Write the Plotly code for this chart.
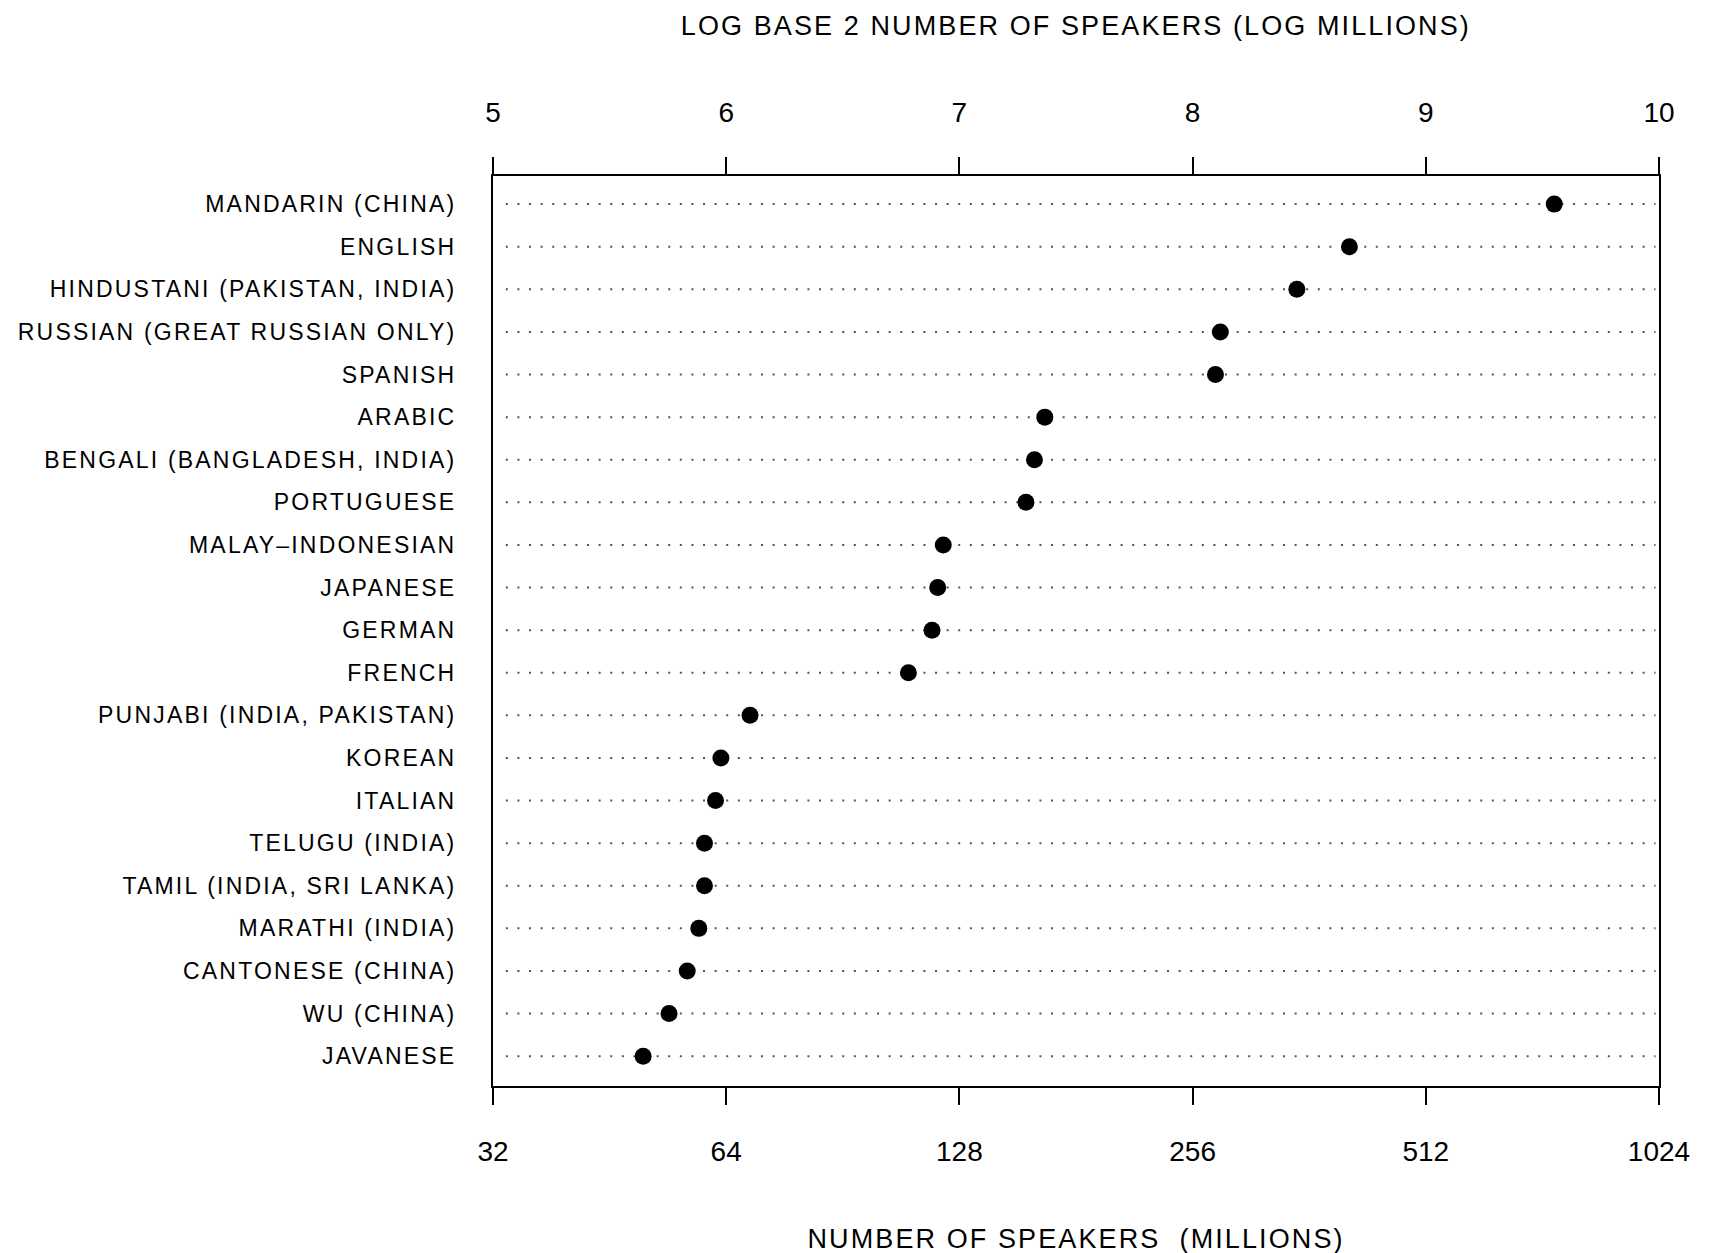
import numpy as np
import plotly.graph_objects as go

# Languages, largest first, and number of speakers (millions)
languages = [
    "MANDARIN (CHINA)",
    "ENGLISH",
    "HINDUSTANI (PAKISTAN, INDIA)",
    "RUSSIAN (GREAT RUSSIAN ONLY)",
    "SPANISH",
    "ARABIC",
    "BENGALI (BANGLADESH, INDIA)",
    "PORTUGUESE",
    "MALAY\u2013INDONESIAN",
    "JAPANESE",
    "GERMAN",
    "FRENCH",
    "PUNJABI (INDIA, PAKISTAN)",
    "KOREAN",
    "ITALIAN",
    "TELUGU (INDIA)",
    "TAMIL (INDIA, SRI LANKA)",
    "MARATHI (INDIA)",
    "CANTONESE (CHINA)",
    "WU (CHINA)",
    "JAVANESE",
]
speakers_millions = [
    750, 408, 349, 278, 274, 165, 160, 156, 122, 120, 118,
    110, 68.7, 63, 62, 60, 60, 59, 57, 54, 50,
]

bottom_ticks = [32, 64, 128, 256, 512, 1024]
bottom_tick_text = ["32", "64", "128", "256", "512", "1024"]
top_ticks = [5, 6, 7, 8, 9, 10]
top_tick_text = ["5", "6", "7", "8", "9", "10"]

top_title = "LOG BASE 2 NUMBER OF SPEAKERS (LOG MILLIONS)"
bottom_title = "NUMBER OF SPEAKERS \u00a0(MILLIONS)"

FONT = "Liberation Sans, Arial, Helvetica, sans-serif"

fig = go.Figure()

# dotted guide line across each row
for lang in languages:
    fig.add_shape(
        type="line", xref="x domain", yref="y",
        x0=0.011, x1=0.997, y0=lang, y1=lang,
        line=dict(color="#555555", width=2, dash="2px,9.6px"),
        layer="below",
    )

fig.add_trace(go.Scatter(
    x=speakers_millions, y=languages, mode="markers",
    marker=dict(color="black", size=17, line=dict(width=0)),
    xaxis="x", yaxis="y", hoverinfo="x+y", showlegend=False,
))
# same points on the log2 scale so the top axis is tied to the data
fig.add_trace(go.Scatter(
    x=np.log2(speakers_millions), y=languages, mode="markers",
    marker=dict(color="rgba(0,0,0,0)", size=1),
    xaxis="x2", yaxis="y", hoverinfo="skip", showlegend=False,
))

axis_font = dict(family=FONT, size=28, color="black")

fig.update_layout(
    width=1712, height=1253,
    margin=dict(l=493, r=53, t=176, b=167),
    paper_bgcolor="white", plot_bgcolor="white",
    font=dict(family=FONT, color="black"),
    showlegend=False,
    xaxis=dict(
        type="log",
        range=[np.log10(32), np.log10(1024)],
        tickmode="array", tickvals=bottom_ticks, ticktext=bottom_tick_text,
        ticks="outside", ticklen=17, tickwidth=2, tickcolor="black",
        ticklabelstandoff=22,
        showline=True, linewidth=2, linecolor="black",
        showgrid=False, zeroline=False,
        tickfont=axis_font,
    ),
    xaxis2=dict(
        overlaying="x", side="top",
        range=[5, 10],
        tickmode="array", tickvals=top_ticks, ticktext=top_tick_text,
        ticks="outside", ticklen=17, tickwidth=2, tickcolor="black",
        ticklabelstandoff=24,
        showline=True, linewidth=2, linecolor="black",
        showgrid=False, zeroline=False,
        tickfont=axis_font,
    ),
    yaxis=dict(
        type="category",
        categoryorder="array", categoryarray=languages,
        range=[20.7, -0.66],
        ticks="", ticklabelstandoff=30,
        showline=True, mirror=True, linewidth=2, linecolor="black",
        showgrid=False, zeroline=False,
        tickfont=dict(family=FONT, size=23, color="black"),
    ),
    annotations=[
        dict(text=top_title, xref="paper", yref="paper", x=0.5, y=1.1648,
             xanchor="center", yanchor="middle", showarrow=False,
             font=dict(family=FONT, size=27, color="black")),
        dict(text=bottom_title, xref="paper", yref="paper", x=0.5, y=-0.168,
             xanchor="center", yanchor="middle", showarrow=False,
             font=dict(family=FONT, size=27, color="black")),
    ],
)

# widen the letter spacing of the row labels and axis titles
spacing_js = """
var gd = document.getElementById('{plot_id}');
gd.querySelectorAll('.ytick text').forEach(function(t){ t.style.letterSpacing = '2.2px'; });
gd.querySelectorAll('.annotation-text').forEach(function(t){ t.style.letterSpacing = '2.1px'; });
"""

fig.write_html("out.html", post_script=spacing_js)
